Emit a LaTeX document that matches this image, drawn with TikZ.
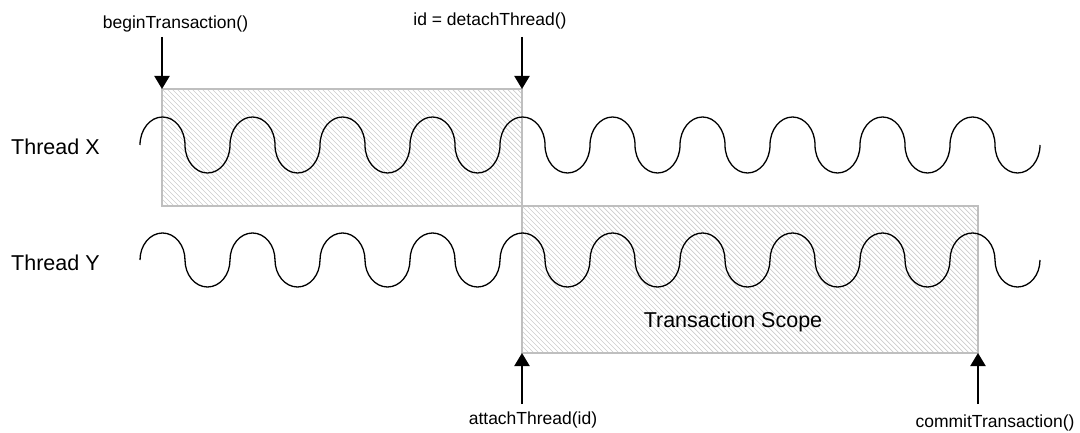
\documentclass[tikz,border=0pt]{standalone}
\usepackage{fontspec}
\setmainfont{Liberation Sans}
\usetikzlibrary{arrows.meta,calc}

\begin{document}
\begin{tikzpicture}[x=1pt,y=-1pt,
  call/.style={font=\fontsize{17.5}{20}\selectfont, inner sep=0pt, anchor=base},
  big/.style={font=\fontsize{21.5}{24}\selectfont, inner sep=0pt, anchor=base},
  marker/.style={line width=2pt, -{Triangle[width=15pt,length=13pt]}},
  hatch/.style={draw=gray!40, line width=0.7pt},
  scopebox/.style={draw=gray!50, line width=1.5pt, inner sep=0pt, outer sep=0pt,
    path picture={
      \foreach \k in {-40,...,100}
        \draw[hatch] ($(path picture bounding box.north west)+({\k*5},0)$) -- ++(200,200);}},
  wave/.style={line width=1.3pt, black}
]
\useasboundingbox (0,0) rectangle (1080,433);

% thread names
\node[big, anchor=base west] (threadX) at (11,155) {Thread X};
\node[big, anchor=base west] (threadY) at (11,270) {Thread Y};

% transaction scope on each thread
\node[scopebox, minimum width=360pt, minimum height=117pt] (boxX) at (342,147.5) {};
\node[scopebox, minimum width=456pt, minimum height=147pt] (boxY) at (750,279.5) {};

% the two threads
\draw[wave] (140,145) foreach \i in {1,...,10} {
  arc[start angle=180, end angle=360, x radius=22.5, y radius=28]
  arc[start angle=180, end angle=0, x radius=22.5, y radius=28] };
\draw[wave] (140,260) foreach \i in {1,...,10} {
  arc[start angle=180, end angle=360, x radius=22.5, y radius=27]
  arc[start angle=180, end angle=0, x radius=22.5, y radius=27] };

\node[big] (scopeLbl) at (733,327) {Transaction Scope};

% API calls
\node[call] (beginLbl) at (175.5,29) {beginTransaction()};
\node[call] (detachLbl) at (490,25.5) {id = detachThread()};
\node[call] (attachLbl) at (533,424.5) {attachThread(id)};
\node[call] (commitLbl) at (995,427) {commitTransaction()};

\coordinate (beginTail) at ($(boxX.north west)+(0,-52)$);
\coordinate (detachTail) at ($(boxX.north east)+(0,-52)$);
\coordinate (attachTail) at ($(boxY.south west)+(0,51)$);
\coordinate (commitTail) at ($(boxY.south east)+(0,51)$);

\draw[marker] (beginTail) -- (boxX.north west);
\draw[marker] (detachTail) -- (boxX.north east);
\draw[marker] (attachTail) -- (boxY.south west);
\draw[marker] (commitTail) -- (boxY.south east);
\end{tikzpicture}
\end{document}
